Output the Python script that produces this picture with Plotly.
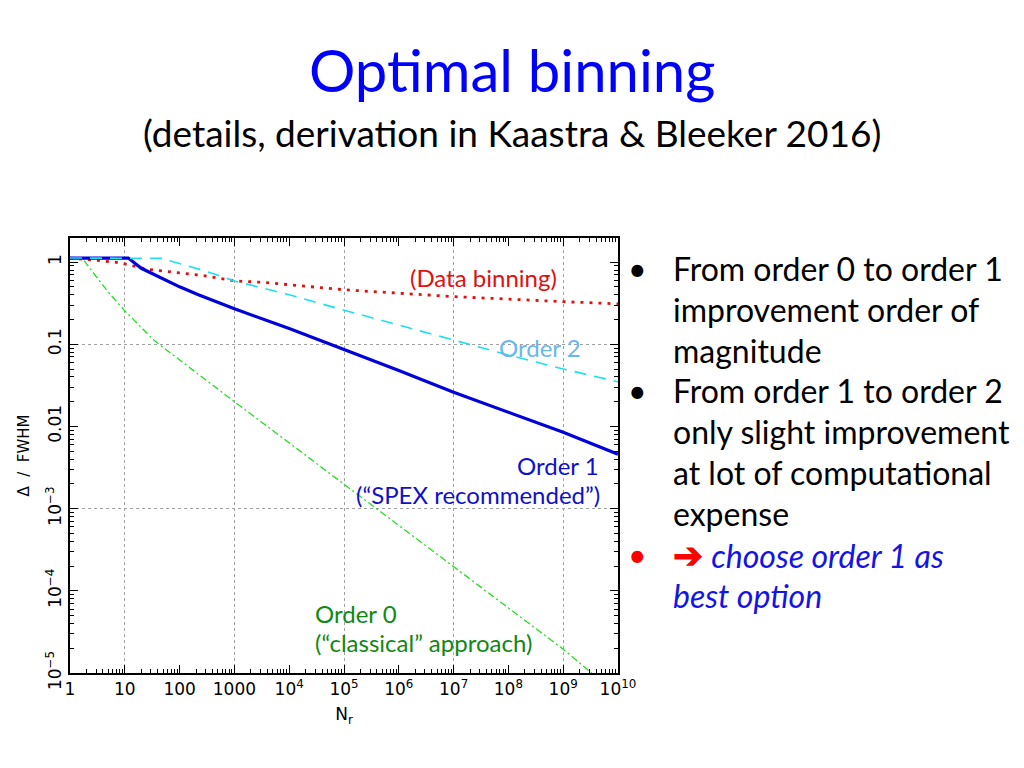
import plotly.graph_objects as go

# ---------------- data ----------------
x_order1 = [1, 11.6, 20, 33, 100, 220, 1000, 1e4, 1e5, 1e6, 1e7, 1e8, 1e9, 1e10]
y_order1 = [1.12, 1.12, 0.84, 0.71, 0.50, 0.40, 0.27, 0.155, 0.087, 0.048, 0.026, 0.0148, 0.0085, 0.0046]

x_order2 = [1, 50, 62, 290, 1000, 1e4, 1e5, 1e6, 1e7, 1e8, 1e9, 1e10]
y_order2 = [1.12, 1.11, 1.05, 0.78, 0.59, 0.40, 0.26, 0.17, 0.112, 0.074, 0.050, 0.035]

x_data = [1, 3, 6.6, 10, 25, 82, 290, 1000, 3600, 1e5, 3.7e6, 1e7, 1e9, 1e10]
y_data = [1.12, 1.06, 1.0, 0.95, 0.82, 0.75, 0.68, 0.59, 0.565, 0.46, 0.40, 0.38, 0.33, 0.31]

x_order0 = [1, 1.7, 2, 5, 10, 35, 1000, 1e5, 1e7, 1e9, 3.3e9]
y_order0 = [1.12, 1.1, 0.95, 0.43, 0.255, 0.11, 0.02, 0.002, 2.0e-4, 1.95e-5, 1.0e-5]

x_tickvals = [1, 10, 100, 1000, 1e4, 1e5, 1e6, 1e7, 1e8, 1e9, 1e10]
x_ticktext = ["1", "10", "100", "1000", "10<sup>4</sup>", "10<sup>5</sup>", "10<sup>6</sup>",
              "10<sup>7</sup>", "10<sup>8</sup>", "10<sup>9</sup>", "10<sup>10</sup>"]
y_tickvals = [1e-5, 1e-4, 1e-3, 0.01, 0.1, 1]
y_ticktext = ["10<sup>\u22125</sup>", "10<sup>\u22124</sup>", "10<sup>\u22123</sup>", "0.01", "0.1", "1"]
x_gridvals = [10, 1000, 1e5, 1e7, 1e9]
y_gridvals = [1e-3, 0.1]

title_text = "Optimal binning"
subtitle_text = "(details, derivation in Kaastra &amp; Bleeker 2016)"
bullet_lines = [
    ("\u2022", "From order 0 to order 1"),
    ("", "improvement order of"),
    ("", "magnitude"),
    ("\u2022", "From order 1 to order 2"),
    ("", "only slight improvement"),
    ("", "at lot of computational"),
    ("", "expense"),
    ("<span style='color:#FF0000'>\u2022</span>",
     "<span style='color:#FF0000;font-size:36px'><b>\u2794</b></span> <i>choose order 1 as</i>"),
    ("", "<i>best option</i>"),
]

# ---------------- layout geometry (screen pixels; page body has an 8px margin) ----------------
OFF = 8
W, H = 1024 - 2 * OFF, 768 - 2 * OFF
L, R, T, B = 70, 618, 238, 673


def px(x):
    return (x - L) / (R - L)


def py(y):
    return (B - y) / (B - T)


SLIDE_FONT = "Lato"
AX_FONT = "DejaVu Sans, sans-serif"

fig = go.Figure()
fig.add_trace(go.Scatter(x=x_data, y=y_data, mode="lines", name="Data binning",
                         line=dict(color="#E01010", width=2.8, dash="3px,6px")))
fig.add_trace(go.Scatter(x=x_order0, y=y_order0, mode="lines", name="Order 0",
                         line=dict(color="#22DD22", width=1.3, dash="7px,3px,2px,3px")))
fig.add_trace(go.Scatter(x=x_order1, y=y_order1, mode="lines", name="Order 1",
                         line=dict(color="#0000DD", width=3.2)))
# Order 2 drawn on the overlay axes (which also carry the dotted grid)
fig.add_trace(go.Scatter(x=x_order2, y=y_order2, mode="lines", name="Order 2",
                         xaxis="x2", yaxis="y2",
                         line=dict(color="#1CE0F0", width=1.6, dash="12px,8px")))

xrange_log = [0, 10]
yrange_log = [-5, 0.293]

fig.update_layout(
    width=W, height=H,
    margin=dict(l=L - OFF, r=W - (R - OFF), t=T - OFF, b=H - (B - OFF), pad=0, autoexpand=False),
    paper_bgcolor="white", plot_bgcolor="white",
    showlegend=False,
    xaxis=dict(type="log", range=xrange_log, tickmode="array", tickvals=x_tickvals,
               ticktext=x_ticktext, ticks="inside", ticklen=8, tickwidth=1.2, tickcolor="black",
               showline=True, linecolor="black", linewidth=2, mirror="ticks",
               showgrid=False, zeroline=False, automargin=False,
               minor=dict(dtick="D1", ticks="inside", ticklen=4, tickcolor="black", showgrid=False),
               tickfont=dict(family=AX_FONT, size=17, color="black"),
               title=dict(text="N<sub>r</sub>", font=dict(family=AX_FONT, size=17, color="black"),
                          standoff=10)),
    yaxis=dict(type="log", range=yrange_log, tickmode="array", tickvals=y_tickvals,
               ticktext=y_ticktext, ticks="inside", ticklen=8, tickwidth=1.2, tickcolor="black",
               showline=True, linecolor="black", linewidth=2, mirror="ticks",
               showgrid=False, zeroline=False, tickangle=-90, automargin=False,
               minor=dict(dtick="D1", ticks="inside", ticklen=4, tickcolor="black", showgrid=False),
               tickfont=dict(family=AX_FONT, size=17, color="black"),
               title=dict(text="\u0394\u00a0\u00a0/\u00a0\u00a0FWHM",
                          font=dict(family=AX_FONT, size=15, color="black"), standoff=10)),
    xaxis2=dict(type="log", range=xrange_log, overlaying="x", anchor="y2", tickmode="array",
                tickvals=x_gridvals, showticklabels=False, ticks="", showline=False,
                showgrid=True, gridcolor="#A0A0A0", gridwidth=1.2, griddash="dot", zeroline=False),
    yaxis2=dict(type="log", range=yrange_log, overlaying="y", anchor="x2", tickmode="array",
                tickvals=y_gridvals, showticklabels=False, ticks="", showline=False,
                showgrid=True, gridcolor="#A0A0A0", gridwidth=1.2, griddash="dot", zeroline=False),
)

ann = []


def add_text(text, x, y, size, color, xanchor="center", family=SLIDE_FONT):
    ann.append(dict(text=text, x=px(x), y=py(y), xref="paper", yref="paper",
                    xanchor=xanchor, yanchor="middle", showarrow=False,
                    font=dict(family=family, size=size, color=color)))


add_text(title_text, 512, 70, 58, "#0000FF")
add_text(subtitle_text, 512, 133, 37, "black")

add_text("(Data binning)", 483, 277, 24, "#E01010")
add_text("Order 2", 540, 347, 24, "#6CB6EE")
add_text("Order 1", 601, 465, 24, "#1010CC", xanchor="right")
add_text("(\u201cSPEX recommended\u201d)", 602, 495, 24, "#1010CC", xanchor="right")
add_text("Order 0", 313, 613, 24, "#118811", xanchor="left")
add_text("(\u201cclassical\u201d approach)", 313, 642, 24, "#118811", xanchor="left")

line_y = [268, 309, 350, 390, 431, 472, 513, 554, 595]
for (bul, txt), yy in zip(bullet_lines, line_y):
    is_blue = "choose" in txt or "best" in txt
    if bul:
        add_text(bul, 637, yy, 32, "black")
    add_text(txt, 671, yy, 32, "#1414E6" if is_blue else "black", xanchor="left")

fig.update_layout(annotations=ann)
fig.write_html("out.html")
